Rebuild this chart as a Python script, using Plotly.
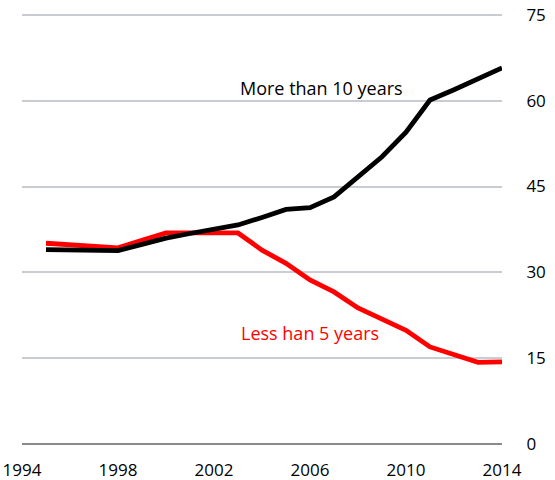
import plotly.graph_objects as go

years = list(range(1995, 2015))
more_than_10 = [34.0, 33.9, 33.9, 33.8, 34.9, 36.0, 36.8, 37.5, 38.3, 39.6,
                41.0, 41.3, 43.2, 46.7, 50.2, 54.5, 60.1, 61.9, 63.8, 65.7]
less_than_5 = [35.1, 34.8, 34.6, 34.3, 35.6, 36.9, 36.9, 36.9, 36.9, 33.9,
               31.6, 28.7, 26.6, 23.8, 21.9, 19.9, 17.0, 15.6, 14.3, 14.4]
x_ticks = [1994, 1998, 2002, 2006, 2010, 2014]
y_ticks = [0, 15, 30, 45, 60, 75]

FONT = "Open Sans"

fig = go.Figure()
fig.add_trace(go.Scatter(x=years, y=less_than_5, mode="lines",
                         line=dict(color="#ff0000", width=4.8), hoverinfo="skip"))
fig.add_trace(go.Scatter(x=years, y=more_than_10, mode="lines",
                         line=dict(color="#000000", width=4.8), hoverinfo="skip"))

fig.add_annotation(x=2006.46, y=62.2, xref="x", yref="y", text="More than 10 years",
                   showarrow=False, font=dict(family=FONT, size=18, color="#000000"))
fig.add_annotation(x=2006.0, y=19.4, xref="x", yref="y", text="Less han 5 years",
                   showarrow=False, font=dict(family=FONT, size=18, color="#ff0000"))

fig.update_layout(
    width=555, height=480,
    margin=dict(l=22, r=53, t=13, b=34, autoexpand=False),
    paper_bgcolor="white", plot_bgcolor="white",
    showlegend=False,
    font=dict(family=FONT, size=17, color="#000000"),
    xaxis=dict(range=[1994, 2014], tickvals=x_ticks, ticktext=[str(v) for v in x_ticks],
               showgrid=False, zeroline=False, showline=False, automargin=False,
               ticks="outside", ticklen=9, tickcolor="rgba(0,0,0,0)",
               tickfont=dict(family=FONT, size=17)),
    yaxis=dict(range=[-0.3, 75.3], tickvals=y_ticks, side="right", automargin=False,
               showgrid=True, gridcolor="#c9cdd1", gridwidth=1.5,
               zeroline=True, zerolinecolor="#8a8a8a", zerolinewidth=2,
               showline=False, ticks="outside", ticklen=20, tickcolor="rgba(0,0,0,0)",
               tickfont=dict(family=FONT, size=17)),
)

fig.write_html("out.html")
